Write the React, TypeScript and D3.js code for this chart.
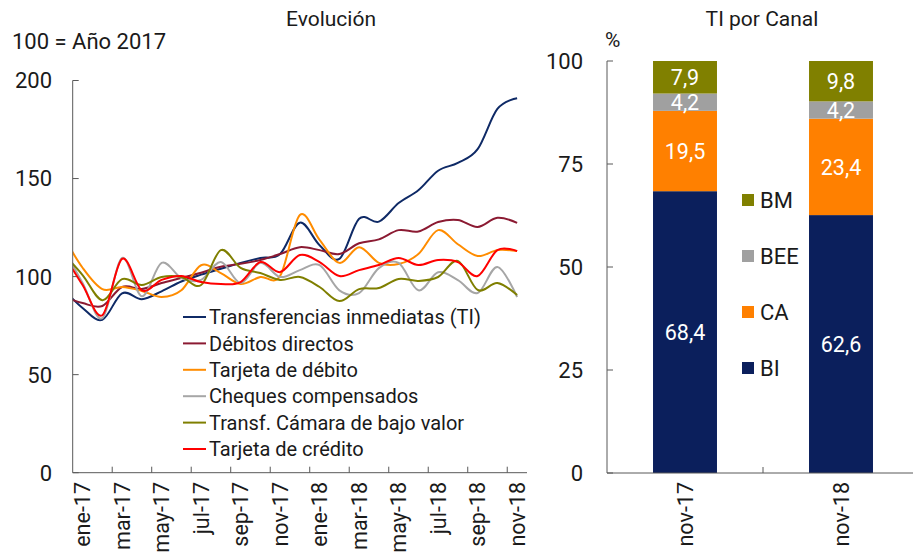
import React from "react";
import * as d3 from "d3";

// ---------- Left panel data (index, 100 = año 2017) ----------
const months = ["dic-16","ene-17","feb-17","mar-17","abr-17","may-17","jun-17","jul-17","ago-17","sep-17","oct-17","nov-17","dic-17","ene-18","feb-18","mar-18","abr-18","may-18","jun-18","jul-18","ago-18","sep-18","oct-18","nov-18"];
const axisMonths = months.slice(1);
const tickLabels = ["ene-17","mar-17","may-17","jul-17","sep-17","nov-17","ene-18","mar-18","may-18","jul-18","sep-18","nov-18"];

const transferenciasTI = [94, 84, 78, 91.5, 88.5, 92.5, 97.5, 101, 104, 107, 109.5, 111.5, 127.5, 116, 109, 129.5, 128, 137.5, 144, 154, 158, 165, 185.5, 191];
const debitosDirectos = [90, 86.5, 85, 94.7, 93.7, 96.7, 99.3, 102, 105, 106.5, 108.5, 111.5, 115, 113.5, 111.5, 117, 119, 123.7, 123, 127.8, 128.9, 125.3, 130, 127.4];
const tarjetaDebito = [121, 104.5, 93.6, 94.7, 92.7, 89.6, 93, 105.8, 101.8, 96.2, 99.8, 100.3, 131.4, 118.7, 107, 115, 107, 106.4, 111.5, 123.7, 116.5, 110.5, 113.5, 113];
const chequesCompensados = [115, 96.7, 78.8, 109.5, 90, 107, 99.3, 98.3, 107.4, 96.7, 107, 99.8, 103.3, 105.8, 93, 91.6, 104.3, 107, 93, 102.2, 98.2, 91.6, 104.9, 89.6];
const transfCamara = [112, 100.8, 88, 98.7, 95.7, 99.8, 99.8, 95.7, 113.5, 104.4, 101.8, 98.3, 99.8, 94.7, 87.5, 93.6, 94.2, 98.8, 97.8, 99.8, 108, 93.2, 96.7, 90.6];
const tarjetaCredito = [112, 95.7, 80.3, 109, 93, 98.3, 100.3, 97.2, 96.2, 97.2, 107.4, 102.3, 111, 107.4, 100.3, 103.3, 105.9, 109.5, 105.9, 108.5, 107.4, 100.3, 113.5, 113];

const seriesNames = ["Transferencias inmediatas (TI)","Débitos directos","Tarjeta de débito","Cheques compensados","Transf. Cámara de bajo valor","Tarjeta de crédito"];
const seriesValues = [transferenciasTI, debitosDirectos, tarjetaDebito, chequesCompensados, transfCamara, tarjetaCredito];
const seriesColors = ["#0F2A66","#8B1A32","#FF8C00","#A6A6A6","#7F7F00","#FF0000"];
const yTicksLeft = [0, 50, 100, 150, 200];

// ---------- Right panel data (% TI por canal) ----------
const canalCategories = ["nov-17","nov-18"];
const canalKeys = ["BI","CA","BEE","BM"];
const canalBI = [68.4, 62.6];
const canalCA = [19.5, 23.4];
const canalBEE = [4.2, 4.2];
const canalBM = [7.9, 9.8];
const canalColors = ["#0B1F5C","#FF8000","#A0A0A0","#808000"];
const yTicksRight = [0, 25, 50, 75, 100];

const FONT = "Roboto, 'Liberation Sans', Arial, sans-serif";
const AXIS = "#595959";
const TXT = "#1a1a1a";

export default function App() {
  // left scales
  const yL = d3.scaleLinear().domain([0, 200]).range([472.7, 80.5]);
  const xBand = d3.scaleBand().domain(axisMonths).range([72.7, 527]).padding(0);
  const step = xBand.step();
  const xIdx = d3.scaleLinear().domain([-0.5, axisMonths.length - 0.5]).range([72.7, 527]);
  const line = d3.line<number>()
    .x((_, i) => xIdx(i - 1))
    .y((v) => yL(v))
    .curve(d3.curveCardinal.tension(0));

  // right scales
  const yR = d3.scaleLinear().domain([0, 100]).range([473, 61]);
  const xR = d3.scaleBand().domain(canalCategories).range([607, 919]).paddingInner(0.59).paddingOuter(0.295);
  const table = canalCategories.map((c, i) => ({ cat: c, BI: canalBI[i], CA: canalCA[i], BEE: canalBEE[i], BM: canalBM[i] }));
  const stacked = d3.stack<any>().keys(canalKeys)(table);

  const fmt = (v: number) => v.toFixed(1).replace(".", ",");

  return (
    <svg width={913} height={558} style={{ position: "absolute", left: 0, top: 0, background: "#fff" }} fontFamily={FONT}>
      <defs>
        <clipPath id="plotL">
          <rect x={72.7} y={60} width={527 - 72.7} height={420} />
        </clipPath>
      </defs>

      {/* ---------------- LEFT ---------------- */}
      <text x={331} y={26} textAnchor="middle" fontSize={21} fill={TXT}>Evolución</text>
      <text x={12} y={49} fontSize={22} fill={TXT}>100 = Año 2017</text>

      {yTicksLeft.map((t) => (
        <g key={"yl" + t}>
          <line x1={72.7} x2={78.7} y1={yL(t)} y2={yL(t)} stroke={AXIS} strokeWidth={1} />
          <text x={52} y={yL(t)} dy="0.36em" textAnchor="end" fontSize={22} fill={TXT}>{t}</text>
        </g>
      ))}

      <g clipPath="url(#plotL)">
        {seriesValues.map((vals, s) => (
          <path key={"s" + s} d={line(vals) || ""} fill="none" stroke={seriesColors[s]} strokeWidth={2} />
        ))}
      </g>

      <line x1={72.7} x2={72.7} y1={yL(200)} y2={yL(0)} stroke={AXIS} strokeWidth={1} />
      <line x1={72.7} x2={527} y1={yL(0)} y2={yL(0)} stroke={AXIS} strokeWidth={1} />
      {axisMonths.map((m, k) => (k % 2 === 0 && k > 0 ? (
        <line key={"xt" + m} x1={xBand(m)!} x2={xBand(m)!} y1={yL(0)} y2={yL(0) - 6} stroke={AXIS} strokeWidth={1} />
      ) : null))}
      {tickLabels.map((m) => {
        const cx = (xBand(m) as number) + step / 2;
        return (
          <text key={"xl" + m} transform={`translate(${cx},482) rotate(-90)`} textAnchor="end" dy="0.36em" fontSize={21.5} fill={TXT}>{m}</text>
        );
      })}

      {seriesNames.map((n, i) => {
        const y = 317 + i * 26.4;
        return (
          <g key={"lg" + i}>
            <line x1={183} x2={206} y1={y} y2={y} stroke={seriesColors[i]} strokeWidth={2} />
            <text x={209} y={y} dy="0.36em" fontSize={20} fill={TXT}>{n}</text>
          </g>
        );
      })}

      {/* ---------------- RIGHT ---------------- */}
      <text x={762} y={26} textAnchor="middle" fontSize={21} fill={TXT}>TI por Canal</text>
      <text x={605} y={47} fontSize={21} fill={TXT}>%</text>

      {stacked.map((layer, li) => (
        <g key={"ly" + li}>
          {layer.map((d: any, j: number) => (
            <rect key={j} x={xR(canalCategories[j])} width={xR.bandwidth()} y={yR(d[1])} height={yR(d[0]) - yR(d[1])} fill={canalColors[li]} />
          ))}
          {layer.map((d: any, j: number) => (
            <text key={"t" + j} x={(xR(canalCategories[j]) as number) + xR.bandwidth() / 2} y={yR((d[0] + d[1]) / 2)} dy="0.36em" textAnchor="middle" fontSize={21.5} fill="#fff">{fmt(d[1] - d[0])}</text>
          ))}
        </g>
      ))}

      {yTicksRight.map((t) => (
        <g key={"yr" + t}>
          <line x1={607} x2={613} y1={yR(t)} y2={yR(t)} stroke={AXIS} strokeWidth={1} />
          <text x={583} y={yR(t)} dy="0.36em" textAnchor="end" fontSize={22} fill={TXT}>{t}</text>
        </g>
      ))}
      <line x1={607} x2={607} y1={yR(100)} y2={yR(0)} stroke={AXIS} strokeWidth={1} />
      <line x1={607} x2={913} y1={yR(0)} y2={yR(0)} stroke={AXIS} strokeWidth={1} />
      <line x1={763} x2={763} y1={yR(0)} y2={yR(0) - 6} stroke={AXIS} strokeWidth={1} />
      {canalCategories.map((c) => (
        <text key={"xr" + c} transform={`translate(${(xR(c) as number) + xR.bandwidth() / 2},482) rotate(-90)`} textAnchor="end" dy="0.36em" fontSize={21.5} fill={TXT}>{c}</text>
      ))}

      {canalKeys.slice().reverse().map((k, i) => {
        const y = 200 + i * 56;
        const ci = canalKeys.indexOf(k);
        return (
          <g key={"rl" + k}>
            <rect x={742} y={y - 6} width={12} height={12} fill={canalColors[ci]} />
            <text x={760} y={y} dy="0.36em" fontSize={22} fill={TXT}>{k}</text>
          </g>
        );
      })}
    </svg>
  );
}
